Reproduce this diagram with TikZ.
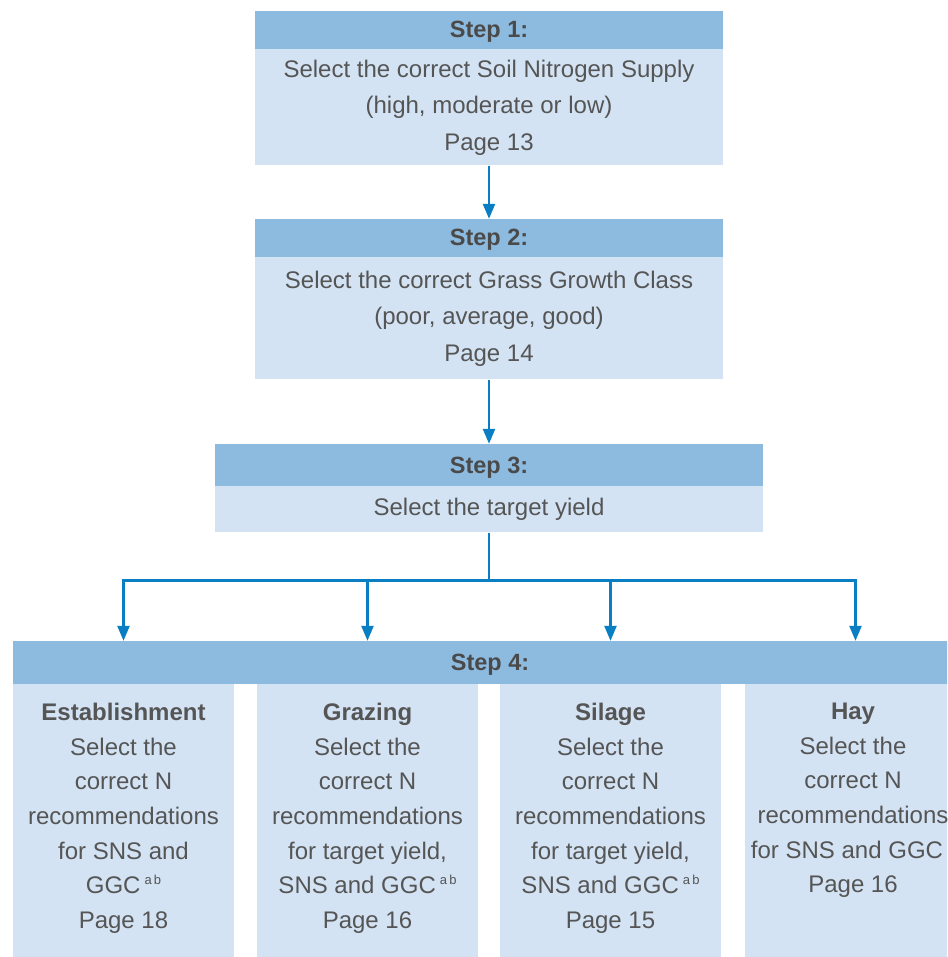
\documentclass[tikz,border=0pt]{standalone}
\usepackage{fontspec}
\setmainfont{Liberation Sans}
\usetikzlibrary{positioning,arrows.meta}
\definecolor{headblue}{HTML}{8DBBE0}
\definecolor{bodyblue}{HTML}{D3E3F3}
\definecolor{arrowblue}{HTML}{0A7EC2}
\definecolor{textgrey}{HTML}{555555}
\definecolor{textdark}{HTML}{4A4A4A}
\newcommand{\supab}{\,\raisebox{9pt}{\fontsize{13}{13}\selectfont a\,b}}
\begin{document}
\begin{tikzpicture}[
    x=1pt, y=-1pt,
    head/.style={rectangle, fill=headblue, text=textdark, inner sep=0pt, text height=20pt, text depth=4pt, font=\bfseries\fontsize{23.5}{28}\selectfont},
    body/.style={rectangle, fill=bodyblue, text=textgrey, inner sep=0pt, align=center, font=\fontsize{24}{36.5}\selectfont},
    subbox/.style={rectangle, fill=bodyblue, minimum width=221pt, minimum height=280pt, inner sep=0pt, anchor=north},
    subtext/.style={text=textgrey, inner sep=0pt, align=center, font=\fontsize{24}{34.6}\selectfont}, % text of the step 4 columns
    flow/.style={draw=arrowblue, line width=2.4pt, -{Triangle[width=12pt,length=15pt]}}
    ]
    \useasboundingbox (0,0) rectangle (947,957);
    \clip (0,0) rectangle (947,957);
    % steps 1 to 3
    \node[head, minimum width=468pt, minimum height=38pt] (h1) at (489,30) {Step 1:};
    \node[body, minimum width=468pt, minimum height=116pt, below=0pt of h1] (b1)
      {Select the correct Soil Nitrogen Supply\\(high, moderate or low)\\Page 13};
    \node[head, minimum width=468pt, minimum height=38pt] (h2) at (489,238) {Step 2:};
    \node[body, minimum width=468pt, minimum height=122pt, below=0pt of h2] (b2)
      {Select the correct Grass Growth Class\\(poor, average, good)\\Page 14};
    \node[head, minimum width=548pt, minimum height=42pt] (h3) at (489,465) {Step 3:};
    \node[body, minimum width=548pt, minimum height=46pt, below=0pt of h3] (b3) {Select the target yield};
    % step 4
    \node[head, minimum width=954pt, minimum height=43pt] (h4) at (490,662.5) {Step 4:};
    \node[subbox] (est) at (123.5,684) {};
    \node[subbox] (graz) at (367.5,684) {};
    \node[subbox] (sil) at (610.5,684) {};
    \node[subbox] (hay) at (855.5,684) {};
    \node[subtext, below=19pt of est.north] (esttext)
      {\textbf{Establishment}\\Select the\\correct N\\recommendations\\for SNS and\\GGC\supab\\Page 18};
    \node[subtext, below=19pt of graz.north] (graztext)
      {\textbf{Grazing}\\Select the\\correct N\\recommendations\\for target yield,\\SNS and GGC\supab\\Page 16};
    \node[subtext, below=19pt of sil.north] (siltext)
      {\textbf{Silage}\\Select the\\correct N\\recommendations\\for target yield,\\SNS and GGC\supab\\Page 15};
    \node[subtext, below=19pt of hay.north, xshift=-2.5pt] (haytext)
      {\textbf{Hay}\\Select the\\correct N\\recommendations\\for SNS and GGC\kern12pt\\Page 16};
    % connectors
    \draw[flow] (b1) -- (h2);
    \draw[flow] (b2) -- (h3);
    \coordinate[below=48pt of b3.south] (split);
    \draw[draw=arrowblue, line width=2.4pt] (b3.south) -- (split);
    \foreach \col in {est,graz,sil,hay}
      \draw[flow] (split) -| (h4.north -| \col);
\end{tikzpicture}
\end{document}
